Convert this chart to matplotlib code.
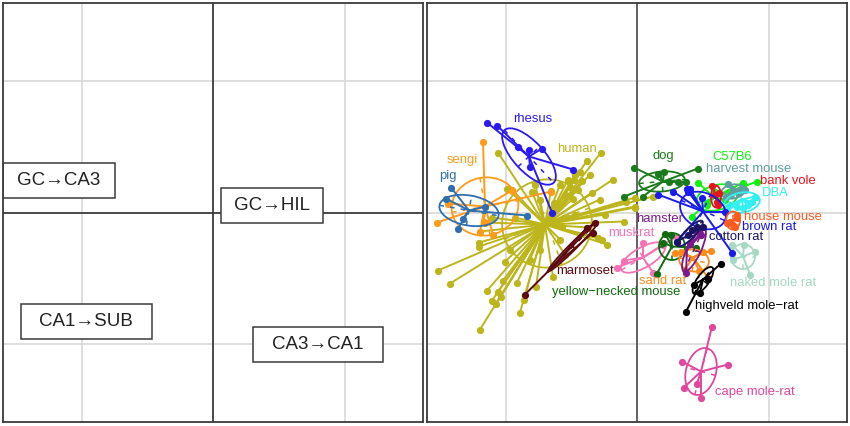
import matplotlib
matplotlib.use("Agg")
import matplotlib.pyplot as plt
from matplotlib.patches import Ellipse, Rectangle
import numpy as np

plt.rcParams['font.family'] = ['Liberation Sans', 'DejaVu Sans']

# left panel: pathway scores
path_labels = ['GC→CA3', 'GC→HIL', 'CA1→SUB', 'CA3→CA1']
path_x = [-154, 59, -127, 105]
path_y = [32, 7, -109, -132]
path_w = [112, 102, 131, 130]

# right panel: species values
human_x = [-139,-36,-50,-24,-55,-69,-63,-102,-130,-125,-105,-86,-67,-45,-64,-83,-2,-2,-32,-13,-73,-75,-50,-145,-152,-157,-158,-158,-127,-39,-30,-35,-199,-187,-150,-139,-134,-120,-101,-84,-145,-136,-141,-113,-117,-157,-11,16,-2,-62,-57,-47,-77,-59,-72,-37,-97,-122,-77,-62,-97,-107,-72,-132]
human_y = [60,60,52,33,32,33,33,28,24,23,21,22,26,20,14,10,15,6,-2,-9,-5,-14,-15,-5,-10,-19,-30,-34,-37,-25,-32,-27,-58,-71,-78,-79,-68,-70,-74,-64,-88,-84,-91,-87,-100,-117,11,16,5,38,41,38,28,23,18,13,13,-5,-27,-2,-37,-47,-42,-49]
rhesus_x = [-150,-140,-119,-108,-95,-107,-64,-85]
rhesus_y = [90,87,66,63,64,46,43,0]
sengi_x = [-154,-200,-125,-86,-157,-144,-189,-153]
sengi_y = [71,-10,22,21,-19,-22,9,-9]
pig_x = [-186,-191,-179,-174,-110,-152]
pig_y = [25,14,-16,-6,-3,6]
marmoset_x = [-112,-42,-50,-44]
marmoset_y = [-82,-10,-15,-20]
dog_x = [-3,61,-13,6,21,27,32,41,49]
dog_y = [45,44,16,16,39,41,31,31,31]
brown_x = [21,36,50,53,51,65,88,40,95]
brown_y = [18,21,24,24,21,15,1,-29,-40]
c57_x = [120,106,106,61,70,55,78,88,70]
c57_y = [31,30,26,30,10,-4,21,13,8]
harvest_x = [91,96,105,93,101,108,89]
harvest_y = [29,23,25,18,20,23,16]
vole_x = [75,78,80,81,82]
vole_y = [27,18,11,8,20]
dba_x = [118,111,106,90,100,115,93]
dba_y = [16,8,5,3,6,11,8]
house_x = [100,100,90,98,93,96]
house_y = [-2,-5,-10,-14,-9,-12]
naked_x = [95,107,118,96,113]
naked_y = [-32,-32,-39,-47,-62]
cotton_x = [40,60,66,55,51]
cotton_y = [-29,-14,-14,-17,-22]
hamster_x = [49,63,63,64,53]
hamster_y = [-60,-21,-15,-22,-31]
muskrat_x = [-20,-13,6,16,26,40]
muskrat_y = [-55,-48,-30,-60,-32,-24]
yellow_x = [20,28,34,59,26]
yellow_y = [-61,-21,-22,-35,-30]
sand_x = [38,44,48,66,74,62,71]
sand_y = [-40,-39,-57,-39,-38,-58,-65]
highveld_x = [84,49,57,63,71]
highveld_y = [-51,-99,-72,-80,-66]
cape_x = [45,91,47,60,64,75]
cape_y = [-149,-152,-175,-171,-185,-114]

species = [
    ('human', '#BDB51C', human_x, human_y, (-92,-12), (-90,-11,90,88,20), (-60,64)),
    ('sengi', '#FF9A1A', sengi_x, sengi_y, (-152,6), (-152,6,67,58,10), (-175,52)),
    ('pig', '#2F6FAE', pig_x, pig_y, (-168,2), (-168,2,60,30,-10), (-189,37)),
    ('rhesus', '#2A1AF0', rhesus_x, rhesus_y, (-108,56), (-108,56,72,30,-47), (-104,93)),
    ('marmoset', '#5C0A10', marmoset_x, marmoset_y, (-89,-59), (-64,-34,70,7,45), (-52,-59)),
    ('dog', '#1B7A1B', dog_x, dog_y, (26,31), (25,31,46,20,5), (26,56)),
    ('muskrat', '#F472B6', muskrat_x, muskrat_y, (6,-45), (6,-45,50,20,30), (-6,-20)),
    ('yellow\u2212necked mouse', '#0F6B0F', yellow_x, yellow_y, (35,-34), (35,-34,26,27,0), (-21,-80)),
    ('sand rat', '#FF8C1A', sand_x, sand_y, (56,-45), (57,-48,30,22,-10), (26,-68)),
    ('hamster', '#7A1A8C', hamster_x, hamster_y, (50,-37), (57,-37,48,14,65), (23,-7)),
    ('naked mole rat', '#A6D8C4', naked_x, naked_y, (106,-44), (106,-44,24,25,0), (136,-70)),
    ('C57B6', '#12F012', c57_x, c57_y, (77,15), (80,15,42,25,15), (95,56)),
    ('harvest mouse', '#5F9EA0', harvest_x, harvest_y, (96,21), (96,21,24,14,10), (112,44)),
    ('DBA', '#33F0F0', dba_x, dba_y, (105,13), (105,10,36,20,10), (138,19)),
    ('bank vole', '#E8141C', vole_x, vole_y, (79,16), (79,16,10,22,0), (151,31)),
    ('brown rat', '#1A1AF0', brown_x, brown_y, (66,1), (66,2,48,35,-25), (132,-15)),
    ('house mouse', '#FF5A1F', house_x, house_y, (96,-9), (96,-8,14,18,0), (146,-4)),
    ('cotton rat', '#1B1464', cotton_x, cotton_y, (51,-23), (53,-21,35,10,45), (99,-25)),
    ('highveld mole\u2212rat', '#000000', highveld_x, highveld_y, (66,-67), (66,-68,32,12,55), (110,-94)),
    ('cape mole-rat', '#E0479E', cape_x, cape_y, (64,-159), (64,-159,48,30,75), (118,-179)),
]

GRID = '#D9D9D9'
FRAME = '#3A3A3A'

fig = plt.figure(figsize=(8.5, 4.26), dpi=100, facecolor='white')
ax1 = fig.add_axes([3/850, 4/426, 420/850, 419/426])
ax2 = fig.add_axes([427/850, 4/426, 420/850, 419/426])

for ax in (ax1, ax2):
    ax.set_xlim(-210, 210)
    ax.set_ylim(-209.5, 209.5)
    ax.set_xticks([]); ax.set_yticks([])
    for s in ax.spines.values():
        s.set_color(FRAME); s.set_linewidth(1.3); s.set_zorder(20)
    for v in (-131.5, 131.5):
        ax.axvline(v, color=GRID, lw=1.2, zorder=0)
        ax.axhline(v, color=GRID, lw=1.2, zorder=0)

# left panel
ax1.axvline(0, color=FRAME, lw=1.3, zorder=1)
ax1.axhline(0, color=FRAME, lw=1.3, zorder=1)
for lab, x, y, w in zip(path_labels, path_x, path_y, path_w):
    ax1.add_patch(Rectangle((x - w/2, y - 17.5), w, 35, fc='white', ec=FRAME, lw=1.1, zorder=3))
    ax1.text(x, y, lab, ha='center', va='center', fontsize=13.5, color='#222222', zorder=4)

# right panel
ax2.axhline(0, color=GRID, lw=1.2, zorder=0)
ax2.axvline(0, color='#555555', lw=1.3, zorder=1)
z = 2
for name, col, xs, ys, ctr, ell, lab in species:
    for x, y in zip(xs, ys):
        ax2.plot([ctr[0], x], [ctr[1], y], color=col, lw=1.4, zorder=z)
    ax2.plot(xs, ys, 'o', color=col, ms=5.2, mew=0, zorder=z)
    cx, cy, maj, mnr, ang = ell
    ax2.add_patch(Ellipse((cx, cy), maj, mnr, angle=ang, fc='none', ec=col, lw=1.3, zorder=z))
    t = np.deg2rad(ang)
    ax2.plot([cx - maj/2*np.cos(t), cx + maj/2*np.cos(t)], [cy - maj/2*np.sin(t), cy + maj/2*np.sin(t)],
             color=col, lw=1.1, ls=(0, (3, 4)), zorder=z)
    ax2.plot([cx + mnr/2*np.sin(t), cx - mnr/2*np.sin(t)], [cy - mnr/2*np.cos(t), cy + mnr/2*np.cos(t)],
             color=col, lw=1.1, ls=(0, (3, 4)), zorder=z)
    z += 0.01
for name, col, xs, ys, ctr, ell, lab in species:
    ax2.text(lab[0], lab[1], name, color=col, fontsize=9.4, ha='center', va='center', zorder=10)

fig.savefig('out.png', dpi=100)
